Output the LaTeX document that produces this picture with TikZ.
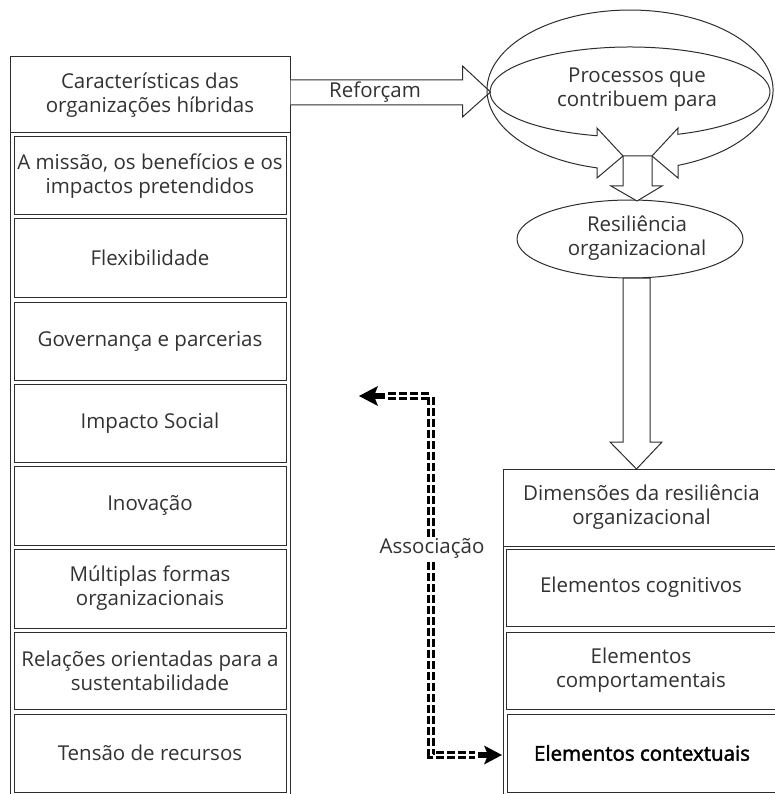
\documentclass[tikz,border=0pt]{standalone}
\usepackage{fontspec}
\setmainfont{Open Sans}
\usetikzlibrary{arrows.meta,shapes.geometric}
\definecolor{lc}{RGB}{45,45,45}
\definecolor{tc}{RGB}{50,50,50}
\begin{document}
\begin{tikzpicture}[x=1pt,y=1pt,
  ln/.style={draw=lc, line width=1pt},
  txt/.style={font=\fontsize{20.5}{24}\selectfont, text=tc, align=center, inner sep=0pt},
  lbox/.style={ln, txt, minimum width=272pt},
  rbox/.style={ln, txt, minimum width=270pt},
  hollow/.style={ln, fill=white, line join=miter},
  dbl/.style={draw=black, line width=3pt, double=white, double distance=1.4pt, dash pattern=on 8pt off 3pt},
  shaft/.style={draw=black, line width=6pt},
  headfill/.style={fill=black}
]
\useasboundingbox (0,0) rectangle (774,-794);

% ---------- left column ----------
\draw[ln] (10,-57) rectangle (290,-794.5);
\node[ln, txt, minimum width=280pt, minimum height=76pt] (lh) at (150,-95) {Características das\\organizações híbridas};
\node[lbox, minimum height=78pt] (b1) at (150,-176) {A missão, os benefícios e os\\impactos pretendidos};
\node[lbox, minimum height=78pt] (b2) at (150,-258) {Flexibilidade};
\node[lbox, minimum height=78pt] (b3) at (150,-341) {Governança e parcerias};
\node[lbox, minimum height=78pt] (b4) at (150,-423) {Impacto Social};
\node[lbox, minimum height=79pt] (b5) at (150,-505.5) {Inovação};
\node[lbox, minimum height=79pt] (b6) at (150,-588.5) {Múltiplas formas\\organizacionais};
\node[lbox, minimum height=77pt] (b7) at (150,-670.5) {Relações orientadas para a\\sustentabilidade};
\node[lbox, minimum height=78pt] (b8) at (150,-753) {Tensão de recursos};

% ---------- right column ----------
\draw[ln] (503,-469) rectangle (780,-794.5);
\node[ln, txt, minimum width=277pt, minimum height=77pt] (rh) at (641.5,-507.5) {Dimensões da resiliência\\organizacional};
\node[rbox, minimum height=77pt] (r1) at (641,-587.5) {Elementos cognitivos};
\node[rbox, minimum height=77pt] (r2) at (641,-670.5) {Elementos\\comportamentais};
\node[rbox, minimum height=78pt] (r3) at (642,-753) {\addfontfeature{FakeBold=2}\color{black}Elementos contextuais};

% ---------- Reforçam arrow ----------
\draw[hollow] ([yshift=15pt]lh.east) -- ++(172,0) -- ++(0,14) -- ++(28,-26) -- ++(-28,-25) -- ++(0,12) -- ([yshift=-10pt]lh.east);
\node[txt] (ref) at (375,-92) {Reforçam};

% ---------- circular arrow ----------
\draw[ln, line join=miter] (630,-92) ++(256.4:140 and 45)
  arc[start angle=256.4, end angle=-70, x radius=140, y radius=45]
  -- (678,-128) -- (652,-156) -- (678,-178) -- (678,-165.4)
  arc[start angle=-70.4, end angle=256.66, x radius=143, y radius=80]
  -- (597,-178) -- (623,-156) -- (597,-128) -- cycle;
\node[txt] (proc) at (637,-90) {Processos que\\contribuem para};

% ---------- ellipse ----------
\node[ln, ellipse, minimum width=226pt, minimum height=78pt, inner sep=0pt] (res) at (630,-239) {};
\node[txt] (rest) at (637,-238) {Resiliência\\organizacional};

% ---------- down arrows ----------
\draw[hollow] (623,-156) -- (652,-156) -- (652,-186) -- (662,-186) -- (637,-201) -- (611,-186) -- (623,-186) -- cycle;
\draw[hollow] (623,-278) -- (650,-278) -- (650,-442) -- (662,-442) -- (636.5,-469) -- (610,-442) -- (623,-442) -- cycle;

% ---------- association ----------
\coordinate (aL) at (359,-396);
\coordinate (c1) at (431,-396);
\coordinate (c2) at (431,-755);
\coordinate (aR) at (502,-755);
\draw[dbl] ([xshift=29pt]aL) -- (c1) -- (c2) -- ([xshift=-27pt]aR);
\draw[shaft] ([xshift=12pt]aL) -- ([xshift=26pt]aL);
\draw[shaft] ([xshift=-12pt]aR) -- ([xshift=-24pt]aR);
\fill[headfill] (aL) -- ++(19,10) -- ++(-4,-10) -- ++(4,-10) -- cycle;
\fill[headfill] (aR) -- ++(-18,9.5) -- ++(4,-9.5) -- ++(-4,-9.5) -- cycle;
\node[txt, fill=white, inner sep=1.5pt] (asl) at (432,-548) {Associação};
\end{tikzpicture}
\end{document}
